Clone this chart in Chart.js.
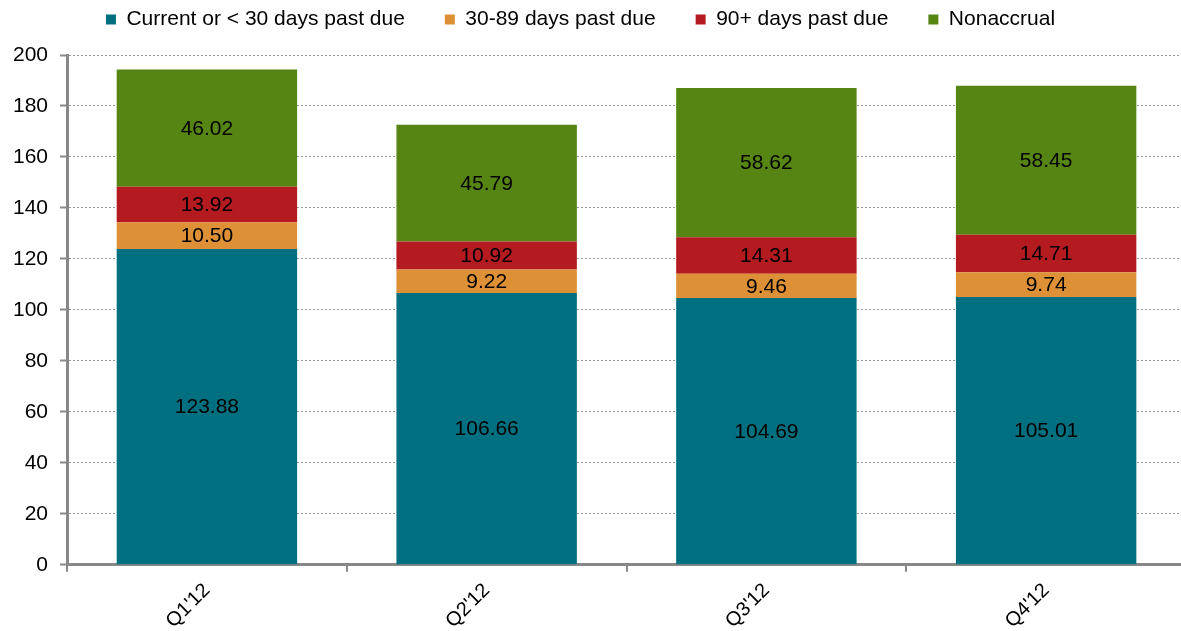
<!DOCTYPE html>
<html>
<head>
<meta charset="utf-8">
<script src="https://cdn.jsdelivr.net/npm/chart.js@4/dist/chart.umd.min.js"></script>
<style>
  html, body { margin: 0; padding: 0; overflow: hidden; background: #fff; }
  #wrap { width: 1186px; height: 631px; }
</style>
</head>
<body>
<div id="wrap"><canvas id="loansChart"></canvas></div>
<script>
const quarters = ["Q1'12", "Q2'12", "Q3'12", "Q4'12"];
const current = [123.88, 106.66, 104.69, 105.01];
const pastDue30 = [10.50, 9.22, 9.46, 9.74];
const pastDue90 = [13.92, 10.92, 14.31, 14.71];
const nonaccrual = [46.02, 45.79, 58.62, 58.45];
const yTicks = [0, 20, 40, 60, 80, 100, 120, 140, 160, 180, 200];

Chart.defaults.font.family = "'Liberation Sans', Arial, sans-serif";
Chart.defaults.font.size = 21;
Chart.defaults.color = "#000";

// values written in the middle of each segment
const segmentLabels = {
  id: "segmentLabels",
  afterLayout(chart) {
    // legend sits a little left of centre in the original
    chart.legend.left -= 13;
    chart.legend.right -= 13;
  },
  afterDatasetsDraw(chart) {
    const ctx = chart.ctx;
    ctx.save();
    ctx.font = "21px 'Liberation Sans', Arial, sans-serif";
    ctx.fillStyle = "#000";
    ctx.textAlign = "center";
    ctx.textBaseline = "middle";
    chart.data.datasets.forEach((ds, i) => {
      chart.getDatasetMeta(i).data.forEach((bar, j) => {
        const p = bar.getProps(["x", "y", "base"], true);
        ctx.fillText(ds.data[j].toFixed(2), p.x, (p.y + p.base) / 2 + 1);
      });
    });
    ctx.restore();
  }
};

const ctxLoans = document.getElementById("loansChart").getContext("2d");
new Chart(ctxLoans, {
  type: "bar",
  data: {
    labels: quarters,
    datasets: [
      { label: "Current or < 30 days past due", data: current, backgroundColor: "#007080" },
      { label: "30-89 days past due", data: pastDue30, backgroundColor: "#DD9035" },
      { label: "90+ days past due", data: pastDue90, backgroundColor: "#B31B20" },
      { label: "Nonaccrual", data: nonaccrual, backgroundColor: "#568513" }
    ]
  },
  options: {
    responsive: true,
    maintainAspectRatio: false,
    animation: false,
    layout: { padding: { left: 1, right: 0, top: -31, bottom: -9 } },
    datasets: { bar: { categoryPercentage: 1, barPercentage: 0.645 } },
    plugins: {
      legend: {
        position: "top",
        labels: { boxWidth: 10, boxHeight: 10, padding: 40, color: "#000", font: { size: 21 } }
      },
      tooltip: { enabled: false }
    },
    scales: {
      x: {
        stacked: true,
        grid: { drawOnChartArea: false, drawTicks: true, tickLength: 7, color: "#888", lineWidth: 2 },
        border: { color: "#888", width: 3 },
        ticks: { maxRotation: 45, minRotation: 45, padding: 7, color: "#000", font: { size: 20 } }
      },
      // empty band between legend and plot
      gap: {
        type: "category",
        position: "top",
        grid: { display: false },
        border: { display: false },
        ticks: { display: false },
        afterFit: axis => { axis.height = 15; }
      },
      y: {
        stacked: true,
        min: 0,
        max: 200,
        afterBuildTicks: axis => { axis.ticks = yTicks.map(v => ({ value: v })); },
        grid: { color: "#999", tickLength: 7, tickColor: "#888", tickWidth: 2, tickBorderDash: [] },
        border: { color: "#888", width: 3, dash: [2, 2] },
        ticks: { padding: 12, color: "#000" }
      }
    }
  },
  plugins: [segmentLabels]
});
</script>
</body>
</html>
